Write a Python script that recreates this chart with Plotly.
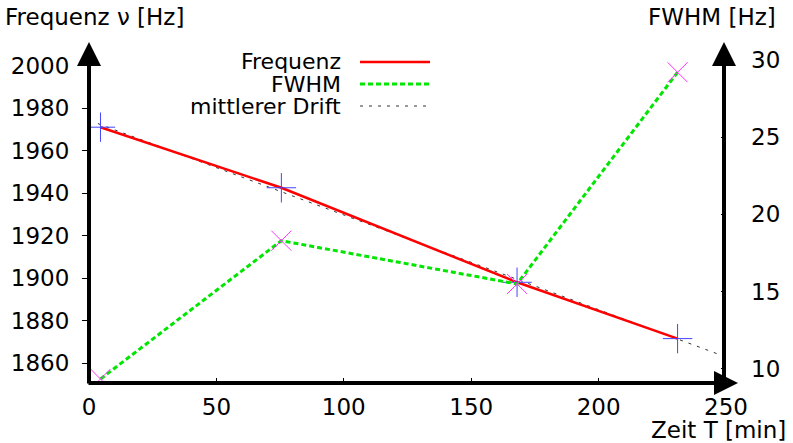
import plotly.graph_objects as go

# ---- data ----
t_min = [4.5, 75.5, 168, 231]
freq_hz = [1971, 1942.5, 1898, 1871.5]
fwhm_hz = [9.35, 18.3, 15.5, 29.2]
drift_t = [3.5, 248.5]
drift_f = [1972.7, 1863.5]

x_ticks = [0, 50, 100, 150, 200, 250]
y_ticks = [1860, 1880, 1900, 1920, 1940, 1960, 1980, 2000]
y2_ticks = [10, 15, 20, 25, 30]

FONT = "DejaVu Sans"
FS = 23

fig = go.Figure()

fig.add_trace(go.Scatter(
    x=drift_t, y=drift_f, mode="lines", name="mittlerer Drift",
    line=dict(color="#333333", width=1, dash="3px,6px"), yaxis="y"))
fig.add_trace(go.Scatter(
    x=t_min, y=fwhm_hz, mode="lines+markers", name="FWHM", yaxis="y2",
    line=dict(color="#00e600", width=3, dash="5px,3px"),
    marker=dict(symbol="x-thin", size=20, line=dict(color="#ff33ff", width=1))))
fig.add_trace(go.Scatter(
    x=t_min, y=freq_hz, mode="lines+markers", name="Frequenz", yaxis="y",
    line=dict(color="#ff0000", width=2.5),
    marker=dict(symbol="cross-thin", size=21, line=dict(color="#4444ff", width=1))))

L, R, T, B = 89, 67, 42, 60
W, H = 793, 443
pw = W - L - R
ph = H - T - B

annotations = []
shapes = []
# axis lines with arrowheads
annotations.append(dict(xref="paper", yref="paper", x=0, y=1, ax=0, ay=ph + 2,
                        showarrow=True, arrowhead=2, arrowsize=1.2, arrowwidth=4,
                        arrowcolor="black", text=""))
annotations.append(dict(xref="paper", yref="paper", x=1 - 2 / pw, y=1, ax=0, ay=ph + 2,
                        showarrow=True, arrowhead=2, arrowsize=1.2, arrowwidth=4,
                        arrowcolor="black", text=""))
annotations.append(dict(xref="paper", yref="paper", x=1 + 12 / pw, y=0, ax=-(pw + 14), ay=0,
                        showarrow=True, arrowhead=2, arrowsize=1.2, arrowwidth=4,
                        arrowcolor="black", text=""))
# axis titles
annotations.append(dict(xref="paper", yref="paper", x=-86 / pw, y=1 + 25 / ph,
                        xanchor="left", yanchor="middle", showarrow=False,
                        text="Frequenz ν [Hz]", font=dict(family=FONT, size=FS, color="black")))
annotations.append(dict(xref="paper", yref="paper", x=1 + 52 / pw, y=1 + 25 / ph,
                        xanchor="right", yanchor="middle", showarrow=False,
                        text="FWHM [Hz]", font=dict(family=FONT, size=FS, color="black")))
annotations.append(dict(xref="paper", yref="paper", x=1 + 62 / pw, y=-47 / ph,
                        xanchor="right", yanchor="middle", showarrow=False,
                        text="Zeit T [min]", font=dict(family=FONT, size=FS, color="black")))

# legend (text left, sample right, as in the reference)
leg = [("Frequenz", dict(color="#ff0000", width=2.5)),
       ("FWHM", dict(color="#00e600", width=3, dash="5px,3px")),
       ("mittlerer Drift", dict(color="#333333", width=1, dash="3px,6px"))]
for i, (name, ln) in enumerate(leg):
    ypix = 62 + 22 * i
    yp = 1 - (ypix - T) / ph
    annotations.append(dict(xref="paper", yref="paper", x=(343 - L) / pw, y=yp,
                            xanchor="right", yanchor="middle", showarrow=False,
                            text=name, font=dict(family=FONT, size=22, color="black")))
    shapes.append(dict(type="line", xref="paper", yref="paper",
                       x0=(360 - L) / pw, x1=(430 - L) / pw, y0=yp, y1=yp, line=ln))

fig.update_layout(
    width=W, height=H,
    margin=dict(l=L, r=R, t=T, b=B, pad=0, autoexpand=False),
    paper_bgcolor="white", plot_bgcolor="white",
    showlegend=False,
    font=dict(family=FONT, size=FS, color="black"),
    xaxis=dict(range=[0, 250], tickvals=x_ticks, ticks="inside", ticklen=5,
               tickwidth=1, tickcolor="black", showgrid=False, zeroline=False,
               showline=False, ticklabelstandoff=8, automargin=False,
               tickfont=dict(family=FONT, size=FS, color="black")),
    yaxis=dict(range=[1850.6, 2011.1], tickvals=y_ticks, ticks="outside", ticklen=6,
               tickwidth=1, tickcolor="black", showgrid=False, zeroline=False,
               showline=False, ticklabelstandoff=8, automargin=False,
               tickfont=dict(family=FONT, size=FS, color="black")),
    yaxis2=dict(range=[9.09, 31.16], tickvals=y2_ticks, overlaying="y", side="right",
                ticks="inside", ticklen=5, tickwidth=1, tickcolor="black",
                showgrid=False, zeroline=False, showline=False, ticklabelstandoff=24,
                automargin=False,
                tickfont=dict(family=FONT, size=FS, color="black")),
    annotations=annotations,
    shapes=shapes,
)

fig.write_html("out.html", config={"displayModeBar": False},
               post_script="document.body.style.margin='0';document.body.style.overflow='hidden';")
